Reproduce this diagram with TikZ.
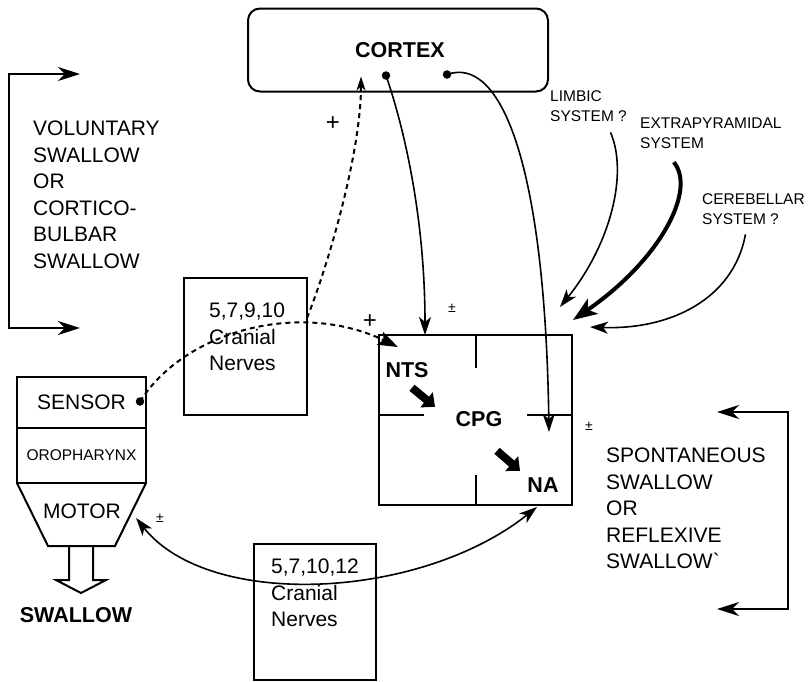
\documentclass[tikz,border=0pt]{standalone}
\usepackage{fontspec}
\setmainfont{Liberation Sans}
\usepackage{tikz}
\usetikzlibrary{arrows.meta, shapes, calc, positioning}
\tikzstyle{line} = [draw, line width=1.6pt, -{Stealth[length=18pt,width=12pt,inset=5pt]}]
\tikzstyle{dline} = [draw, line width=2pt, dash pattern=on 5pt off 4pt, -{Stealth[length=16pt,width=11pt,inset=4pt]}]
\tikzstyle{brack} = [draw, line width=1.6pt, {Stealth[length=22pt,width=14pt,inset=7pt]}-{Stealth[length=22pt,width=14pt,inset=7pt]}]

\begin{document}
\begin{tikzpicture}[x=1pt,y=-1pt,
 box/.style={draw,line width=2pt,inner sep=0,outer sep=0},
 big/.style={font=\fontsize{21}{26.5}\selectfont,align=left,inner sep=0},
 small/.style={font=\fontsize{15.5}{20}\selectfont,align=left,inner sep=0},
 boldtxt/.style={font=\fontsize{21.5}{26}\selectfont\bfseries,inner sep=0},
 sign/.style={font=\fontsize{14}{14}\selectfont,inner sep=0},
 plus/.style={font=\fontsize{24}{24}\selectfont,inner sep=0},
 fat/.style={draw,line width=8pt,-{Triangle[length=11pt,width=19pt]}},
 dot/.style={circle,fill,inner sep=0,minimum size=8.5pt}]

 \useasboundingbox (0,0) rectangle (810,681);

 % cortex
 \node[box,rounded corners=12pt,minimum width=300pt,minimum height=83pt] (cortex) at (398,50) {};
 \node[boldtxt] (cortexlbl) at (400,50) {CORTEX};
 \node[dot] (d1) at ($(cortex.south)+(-12,-16)$) {};
 \node[dot] (d2) at ($(cortex.south)+(49,-17)$) {};

 % central pattern generator
 \node[box,minimum width=193pt,minimum height=170pt] (cpg) at (475.5,420) {};
 \draw[line width=2pt] (cpg.north) -- ++(0,33);
 \draw[line width=2pt] (cpg.south) -- ++(0,-30);
 \draw[line width=2pt] ($(cpg.west)+(0,-5)$) -- ++(45,0);
 \draw[line width=2pt] ($(cpg.east)+(0,-5)$) -- ++(-45,0);
 \node[boldtxt] (nts) at (407,370) {NTS};
 \node[boldtxt] (cpglbl) at (479,419) {CPG};
 \node[boldtxt] (na) at (543,485) {NA};
 \draw[fat] ($(nts.south)+(5,10)$) -- ++(23,19);
 \draw[fat] ($(cpglbl.south)+(18,24)$) -- ++(23,20);

 % cranial nerves
 \node[box,minimum width=123pt,minimum height=137pt] (cn1) at (245.5,346.5) {};
 \node[big,anchor=north west] (cn1txt) at (209,303) {5,7,9,10\\Cranial\\Nerves};
 \node[box,minimum width=122pt,minimum height=136pt] (cn2) at (315,612) {};
 \node[big,anchor=north west] (cn2txt) at (271,559) {5,7,10,12\\Cranial\\Nerves};

 % oropharynx
 \node[box,big,minimum width=129pt,minimum height=51pt] (sensor) at (81.5,402.5) {SENSOR};
 \node[box,minimum width=129pt,minimum height=55pt,below=0pt of sensor,
   font=\fontsize{15.5}{18}\selectfont] (oro) {OROPHARYNX};
 \draw[line width=2pt] (oro.south west) -- ++(31,63) -- ++(67,0) -- (oro.south east);
 \node[big] (motor) at (82,511) {MOTOR};
 \draw[line width=2pt] (69,546) -- (69,580) -- (56,580) -- (81,593) -- (106,580) -- (93,580) -- (93,546);
 \node[boldtxt] (swallow) at (76,615) {SWALLOW};
 \node[dot] (sdot) at ($(sensor.east)+(-6,-1)$) {};

 % swallow types
 \node[big,anchor=north west] (vol) at (33,121) {VOLUNTARY\\SWALLOW\\OR\\CORTICO-\\BULBAR\\SWALLOW};
 \draw[brack] (80,74) -- (9,74) -- (9,328) -- (80,328);
 \node[big,anchor=north west] (spont) at (606,448) {SPONTANEOUS\\SWALLOW\\OR\\REFLEXIVE\\SWALLOW\textasciigrave};
 \draw[brack] (717,412) -- (788,412) -- (788,609) -- (717,609);

 % other inputs
 \node[small,anchor=north west] (limbic) at (550,90) {LIMBIC\\SYSTEM ?};
 \node[small,anchor=north west] (extra) at (640,118) {EXTRAPYRAMIDAL\\SYSTEM};
 \node[small,anchor=north west] (cereb) at (702,193) {CEREBELLAR\\SYSTEM ?};

 \draw[line] ($(limbic.south)+(22,11)$) .. controls +(18,42) and +(50,-62) .. ($(cpg.north east)+(-12,-28)$);
 \draw[line,line width=4pt,-{Stealth[length=24pt,width=18pt,inset=6pt]}] ($(extra.south)+(-37,13)$) .. controls +(23,28) and +(87,-60) .. ($(cpg.north east)+(1,-15)$);
 \draw[line] ($(cereb.south)+(-8,10)$) .. controls +(-12,65) and +(80,3) .. ($(cpg.north east)+(18,-8)$);

 % connections
 \draw[line] (d1.center) .. controls +(19,55) and +(0,-115) .. ($(cpg.north west)+(46,0)$);
 \draw[line] (d2.center) .. controls +(53,-19) and +(-4,-272) .. ($(cpg.east)+(-23,12)$);
 \draw[dline,-{Stealth[length=14pt,width=9pt,inset=4pt]}] ($(cn1.north east)+(0,40)$) .. controls +(23,-58) and +(0,74) .. ($(cortex.south)+(-37,-15)$);
 \draw[dline,-{Stealth[length=20pt,width=14pt,inset=4pt]}] (sdot.center) .. controls +(45,-71) and +(-98,-47) .. ($(cpg.north west)+(19,12)$);
 \draw[line,{Stealth[length=18pt,width=12pt,inset=5pt]}-{Stealth[length=18pt,width=12pt,inset=5pt]}] ($(motor.east)+(15,7)$) .. controls +(73,92) and +(-117,93) .. ($(cpg.south east)+(-35,2)$);

 \node[plus] (p1) at (333,124) {+};
 \node[plus] (p2) at (370,322) {+};
 \node[sign] (pm1) at (452,308) {±};
 \node[sign] (pm2) at (589,426) {±};
 \node[sign] (pm3) at (160,518) {±};
\end{tikzpicture}
\end{document}
